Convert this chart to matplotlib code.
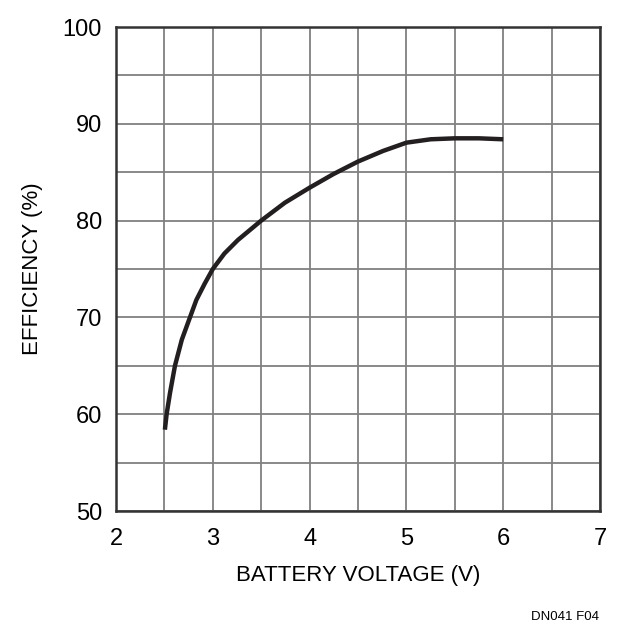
import matplotlib
matplotlib.use("Agg")
import matplotlib.pyplot as plt
import numpy as np

plt.rcParams['font.family'] = ['Liberation Sans Narrow', 'Liberation Sans', 'DejaVu Sans']

# battery voltage (V) vs efficiency (%)
voltage = [2.505, 2.523, 2.558, 2.609, 2.68, 2.764, 2.83, 2.917, 3.0, 3.12, 3.26, 3.5,
           3.745, 4.0, 4.245, 4.5, 4.76, 5.0, 5.25, 5.5, 5.75, 6.0]
efficiency = [58.4, 60.0, 62.2, 65.0, 67.7, 70.0, 71.8, 73.5, 75.0, 76.6, 78.0, 80.0,
              81.85, 83.4, 84.8, 86.1, 87.2, 88.05, 88.4, 88.5, 88.5, 88.4]

x_ticks = [2, 3, 4, 5, 6, 7]
y_ticks = [50, 60, 70, 80, 90, 100]

fig = plt.figure(figsize=(6.26, 6.30), dpi=100)
ax = fig.add_axes([116 / 626, 1 - 511 / 630, (600 - 116) / 626, (511 - 27) / 630])

ax.set_xlim(2, 7)
ax.set_ylim(50, 100)
ax.set_xticks(x_ticks)
ax.set_yticks(y_ticks)
ax.set_xticks(np.arange(2, 7.01, 0.5), minor=True)
ax.set_yticks(np.arange(50, 100.1, 5), minor=True)
ax.grid(True, which='both', color='#808080', linewidth=1.3)
ax.set_axisbelow(True)
ax.tick_params(which='both', length=0, labelsize=17)
ax.tick_params(axis='x', pad=12)
ax.tick_params(axis='y', pad=10)

for s in ax.spines.values():
    s.set_color('#333333')
    s.set_linewidth(1.8)

ax.plot(voltage, efficiency, color='#231f20', linewidth=3.2,
        solid_capstyle='butt', solid_joinstyle='round')

ax.set_xlabel('BATTERY VOLTAGE (V)', fontsize=16, labelpad=11)
ax.set_ylabel('EFFICIENCY (%)', fontsize=16, labelpad=14)

fig.text(599 / 626, 1 - 617 / 630, 'DN041 F04', fontsize=9.5, ha='right', va='center')

fig.savefig('out.png', dpi=100)
